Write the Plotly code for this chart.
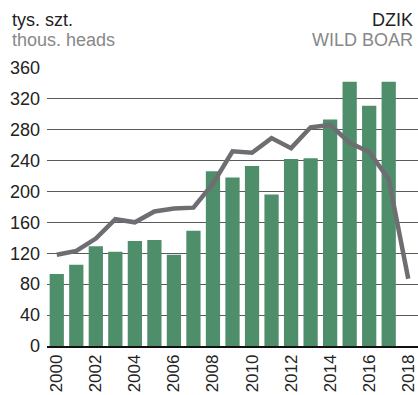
import plotly.graph_objects as go

# Wild boar: annual values, thousand heads
bar_years = list(range(2000, 2018))
bar_values = [93, 105, 129, 122, 136, 137, 118, 149, 226, 218, 233, 196, 242, 243, 293, 342, 311, 342]

line_years = list(range(2000, 2019))
line_values = [118, 123, 139, 164, 160, 174, 178, 179, 210, 252, 250, 269, 256, 283, 286, 263, 251, 216, 87]

y_ticks = [0, 40, 80, 120, 160, 200, 240, 280, 320, 360]
x_ticks = list(range(2000, 2019, 2))

FONT = "Liberation Sans, Arial, sans-serif"
W, H = 418, 395
M_L, M_R, M_T, M_B = 47, 0, 67, 49
PLOT_W, PLOT_H = W - M_L - M_R, H - M_T - M_B

fig = go.Figure()
fig.add_trace(go.Bar(
    x=bar_years, y=bar_values,
    marker=dict(color="#4f8e6a", line=dict(width=0)),
    width=0.73,
))
fig.add_trace(go.Scatter(
    x=line_years, y=line_values, mode="lines",
    line=dict(color="#6e6e72", width=4.5),
))

fig.update_layout(
    width=W, height=H,
    margin=dict(l=M_L, r=M_R, t=M_T, b=M_B, autoexpand=False),
    paper_bgcolor="white", plot_bgcolor="white",
    showlegend=False,
    font=dict(family=FONT, size=18, color="#222"),
    xaxis=dict(
        range=[1999.5, 2018.5],
        tickvals=x_ticks, ticktext=[str(v) for v in x_ticks],
        tickangle=-90, showgrid=False, zeroline=False,
        showline=True, linecolor="#111", linewidth=1.5,
        ticks="", ticklabelstandoff=0, automargin=False,
        ticklabeloverflow="allow",
        tickfont=dict(size=17, color="#222"),
    ),
    yaxis=dict(
        range=[0, 361],
        tickvals=y_ticks, ticktext=[str(v) for v in y_ticks],
        showgrid=True, gridcolor="#5a5a5a", gridwidth=1.3,
        zeroline=False, ticks="", ticklabelstandoff=6, automargin=False,
        tickfont=dict(size=18, color="#222"),
    ),
)


def to_paper(xpix, ypix):
    return (xpix - M_L) / PLOT_W, (H - M_B - ypix) / PLOT_H


header = [
    ("tys. szt.", 10, 20, "left", "#222"),
    ("thous. heads", 10, 40, "left", "#888"),
    ("DZIK", 415, 20, "right", "#222"),
    ("WILD BOAR", 415, 40, "right", "#888"),
]
for text, xpix, ypix, anchor, color in header:
    xp, yp = to_paper(xpix, ypix)
    fig.add_annotation(
        text=text, xref="paper", yref="paper",
        x=xp, xanchor=anchor, y=yp, yanchor="middle",
        showarrow=False,
        font=dict(family=FONT, size=18, color=color),
    )

fig.write_html("out.html")
